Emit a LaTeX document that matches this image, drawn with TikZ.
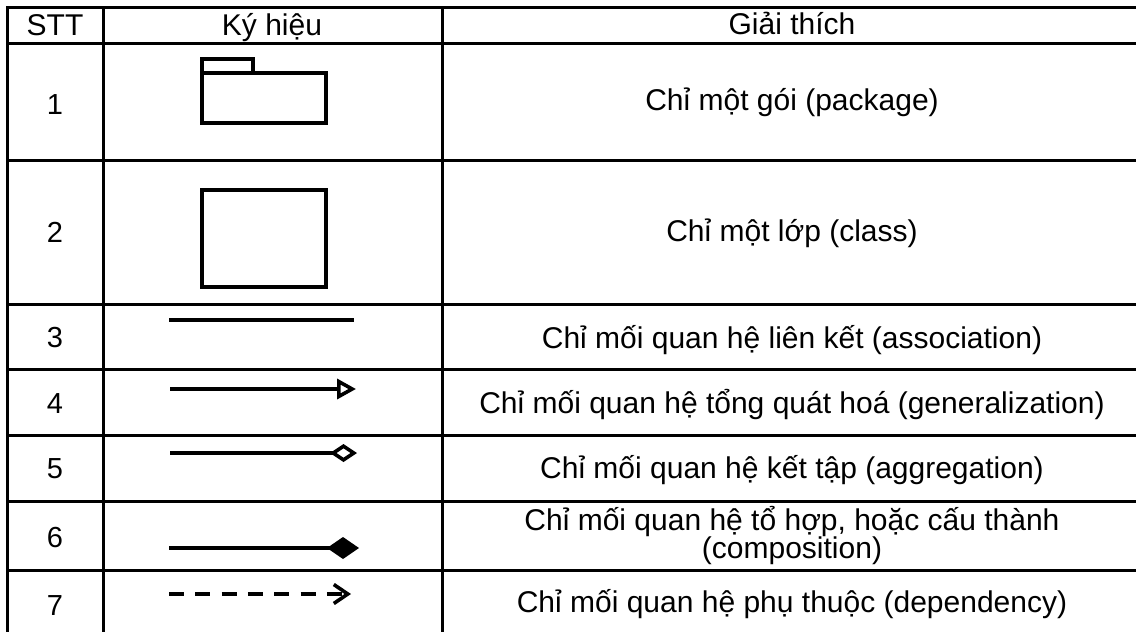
\documentclass[tikz,border=0pt]{standalone}
\usepackage{fontspec}
\setmainfont{Liberation Sans}
\usetikzlibrary{arrows.meta}
\tikzset{
  grid/.style={line width=3pt, line cap=rect},
  txt/.style={inner sep=0pt, anchor=base, font=\fontsize{30}{30}\selectfont},
  num/.style={inner sep=0pt, anchor=base, font=\fontsize{29}{29}\selectfont},
  sym/.style={line width=3.6pt},
  boxsym/.style={line width=4.4pt},
}
\begin{document}
\begin{tikzpicture}[x=1pt,y=-1pt]
\useasboundingbox (0,0) rectangle (1136,632);
\clip (0,0) rectangle (1136,632);
\fill[white] (0,0) rectangle (1136,632);
% grid
\foreach \yy in {7,43,160,304,369,435,501,570}
  \draw[grid] (7,\yy) -- (1150,\yy);
\foreach \xx in {7,103,442}
  \draw[grid] (\xx,7) -- (\xx,650);
% header
\node[txt] (h1) at (55,35) {STT};
\node[txt] (h2) at (272,35) {Ký hiệu};
\node[txt] (h3) at (792,34) {Giải thích};
% numbers
\node[num] (n1) at (55,114) {1};
\node[num] (n2) at (55,242) {2};
\node[num] (n3) at (55,347) {3};
\node[num] (n4) at (55,413) {4};
\node[num] (n5) at (55,478) {5};
\node[num] (n6) at (55,547) {6};
\node[num] (n7) at (55,615) {7};
% descriptions
\node[txt] (d1) at (792,110) {Chỉ một gói (package)};
\node[txt] (d2) at (792,241) {Chỉ một lớp (class)};
\node[txt] (d3) at (792,348) {Chỉ mối quan hệ liên kết (association)};
\node[txt] (d4) at (792,413) {Chỉ mối quan hệ tổng quát hoá (generalization)};
\node[txt] (d5) at (792,478) {Chỉ mối quan hệ kết tập (aggregation)};
\node[txt] (d6a) at (792,530) {Chỉ mối quan hệ tổ hợp, hoặc cấu thành};
\node[txt] (d6b) at (792,558) {(composition)};
\node[txt] (d7) at (792,612) {Chỉ mối quan hệ phụ thuộc (dependency)};
% symbol 1: package
\draw[sym, line width=3.4pt] (202,59) rectangle (253,73);
\draw[sym, line width=3.4pt] (202,73) rectangle (326,123);
% symbol 2: class
\draw[boxsym] (202,190) rectangle (326,287);
% symbol 3: association
\coordinate (a3s) at (169,320);
\coordinate (a3e) at (354,320);
\draw[sym] (a3s) -- (a3e);
% symbol 4: generalization
\coordinate (a4s) at (170,389);
\coordinate (a4e) at (356,389);
\draw[sym, -{Triangle[open,length=19pt,width=20pt]}] (a4s) -- (a4e);
% symbol 5: aggregation
\coordinate (a5s) at (170,453);
\coordinate (a5e) at (357,453);
\draw[sym, -{Diamond[open,length=27pt,width=18pt]}] (a5s) -- (a5e);
% symbol 6: composition
\coordinate (a6s) at (169,548);
\coordinate (a6e) at (359,548);
\draw[sym, -{Diamond[length=32pt,width=22pt]}] (a6s) -- (a6e);
% symbol 7: dependency
\coordinate (a7s) at (169,594);
\coordinate (a7e) at (351,594);
\draw[sym, dash pattern=on 15pt off 11.3pt, -{Straight Barb[length=14pt,width=19pt]}] (a7s) -- (a7e);
\end{tikzpicture}
\end{document}
